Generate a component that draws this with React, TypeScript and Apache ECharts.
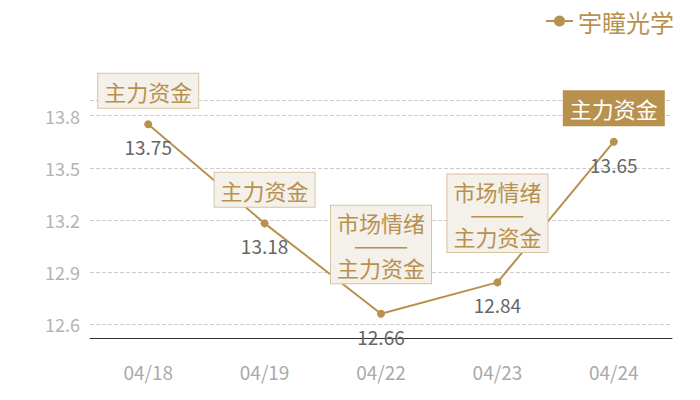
import React, { useEffect, useRef } from "react";
import * as echarts from "echarts";

const categories = ["04/18", "04/19", "04/22", "04/23", "04/24"];
const prices = [13.75, 13.18, 12.66, 12.84, 13.65];
const notes = [
  "主力资金",
  "主力资金",
  "市场情绪\n———\n主力资金",
  "市场情绪\n———\n主力资金",
  "主力资金",
];
const highlighted = [false, false, false, false, true];
const seriesName = "宇瞳光学";
const yMin = 12.52;
const yMax = 13.89;

const GOLD = "#b8914f";
const FONT = "'Noto Sans CJK SC', 'Noto Sans', sans-serif";

export default function App() {
  const ref = useRef<HTMLDivElement>(null);
  useEffect(() => {
    document.body.style.margin = "0";
    if (!ref.current) return;
    const chart = echarts.init(ref.current, undefined, { renderer: "svg" });
    const noteData = prices.map((v, i) => {
      const multi = notes[i].includes("\n");
      return {
        value: v,
        label: {
          show: true,
          position: "top",
          distance: multi ? 30 : 16,
          formatter: notes[i],
          fontSize: 22,
          lineHeight: multi ? 22.5 : 24,
          fontFamily: FONT,
          color: highlighted[i] ? "#ffffff" : GOLD,
          backgroundColor: highlighted[i] ? GOLD : "#f4f0ea",
          borderColor: highlighted[i] ? GOLD : "#d9c4a0",
          borderWidth: 1,
          padding: [5, 6, 5, 6],
          align: "center",
          opacity: 1,
        },
      };
    });
    chart.setOption({
      animation: false,
      textStyle: { fontFamily: FONT },
      legend: {
        data: [seriesName],
        right: 21,
        top: 4,
        itemWidth: 27,
        itemHeight: 14,
        itemGap: 5,
        textStyle: { fontSize: 24, color: GOLD, fontFamily: FONT },
      },
      grid: { left: 90, right: 28, top: 100, bottom: 62, containLabel: false },
      xAxis: {
        type: "category",
        data: categories,
        boundaryGap: true,
        axisLine: { lineStyle: { color: "#333", width: 1 } },
        axisTick: { show: false },
        axisLabel: { color: "#aaaaaa", fontSize: 19, margin: 24, fontFamily: FONT },
      },
      yAxis: {
        type: "value",
        min: yMin,
        max: yMax,
        axisLine: { show: false },
        axisTick: { show: false },
        axisLabel: {
          color: "#b3b3b3",
          fontSize: 18,
          margin: 10,
          showMinLabel: false,
          showMaxLabel: false,
          fontFamily: FONT,
        },
        splitLine: { lineStyle: { color: "#cccccc", type: "dashed", width: 1 } },
      },
      series: [
        {
          name: seriesName,
          type: "line",
          data: prices,
          symbol: "circle",
          symbolSize: 8,
          itemStyle: { color: GOLD },
          lineStyle: { color: GOLD, width: 2 },
          label: {
            show: true,
            position: "bottom",
            distance: 9,
            color: "#666666",
            fontSize: 19,
            fontFamily: FONT,
          },
          z: 2,
        },
        {
          name: "notes",
          type: "line",
          data: noteData,
          symbol: "circle",
          symbolSize: 1,
          itemStyle: { color: "rgba(0,0,0,0)" },
          lineStyle: { color: "rgba(0,0,0,0)", width: 0 },
          silent: true,
          z: 5,
        },
      ],
    });
    return () => chart.dispose();
  }, []);
  return <div ref={ref} style={{ width: 700, height: 400 }} />;
}
